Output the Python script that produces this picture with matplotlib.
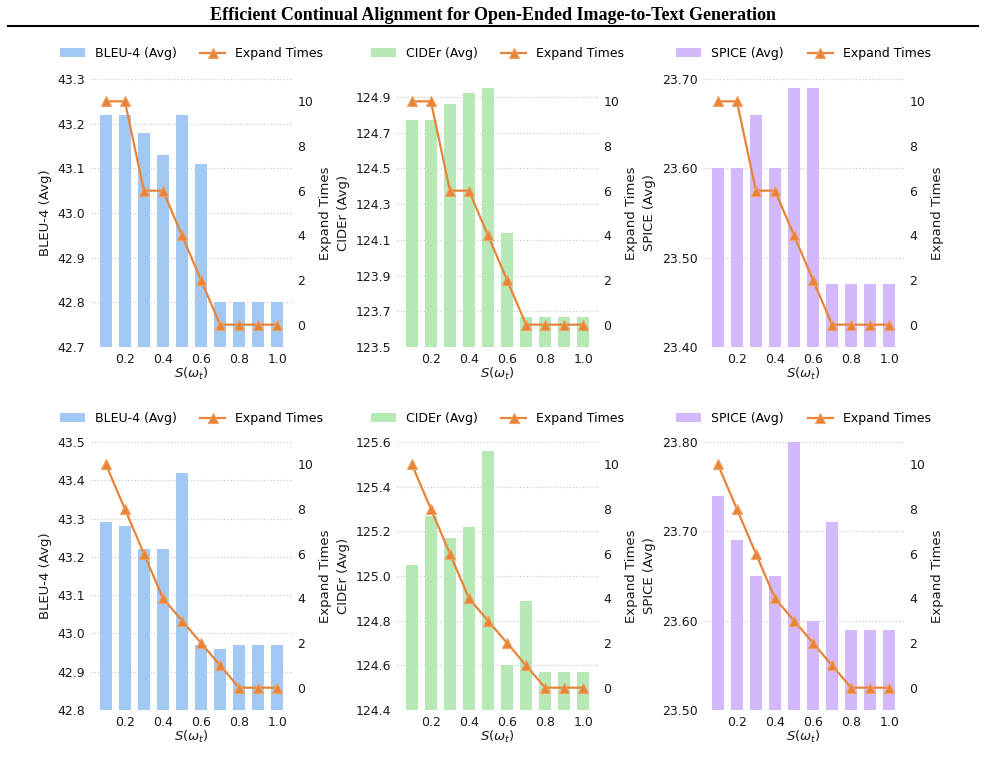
import matplotlib
matplotlib.use("Agg")
import matplotlib.pyplot as plt
import numpy as np

s_values = [0.1, 0.2, 0.3, 0.4, 0.5, 0.6, 0.7, 0.8, 0.9, 1.0]
x_ticks = [0.2, 0.4, 0.6, 0.8, 1.0]

# top row
bleu_top = [43.22, 43.22, 43.18, 43.13, 43.22, 43.11, 42.80, 42.80, 42.80, 42.80]
cider_top = [124.77, 124.77, 124.86, 124.92, 124.95, 124.14, 123.67, 123.67, 123.67, 123.67]
spice_top = [23.60, 23.60, 23.66, 23.60, 23.69, 23.69, 23.47, 23.47, 23.47, 23.47]
expand_top = [10, 10, 6, 6, 4, 2, 0, 0, 0, 0]

# bottom row
bleu_bot = [43.29, 43.28, 43.22, 43.22, 43.42, 42.97, 42.96, 42.97, 42.97, 42.97]
cider_bot = [125.05, 125.27, 125.17, 125.22, 125.56, 124.60, 124.89, 124.57, 124.57, 124.57]
spice_bot = [23.74, 23.69, 23.65, 23.65, 23.80, 23.60, 23.71, 23.59, 23.59, 23.59]
expand_bot = [10, 8, 6, 4, 3, 2, 1, 0, 0, 0]

title = "Efficient Continual Alignment for Open-Ended Image-to-Text Generation"

BLUE = "#a1c9f4"
GREEN = "#b6e9b6"
PURPLE = "#d3b9fc"
ORANGE = "#e8843a"
TXT = "#1a1a1a"

panels = [
    (0, 0, bleu_top, expand_top, "BLEU-4 (Avg)", BLUE, (42.7, 43.3), np.arange(42.7, 43.31, 0.1), "%.1f"),
    (0, 1, cider_top, expand_top, "CIDEr (Avg)", GREEN, (123.5, 125.0), np.arange(123.5, 124.91, 0.2), "%.1f"),
    (0, 2, spice_top, expand_top, "SPICE (Avg)", PURPLE, (23.4, 23.7), np.arange(23.4, 23.71, 0.1), "%.2f"),
    (1, 0, bleu_bot, expand_bot, "BLEU-4 (Avg)", BLUE, (42.8, 43.5), np.arange(42.8, 43.51, 0.1), "%.1f"),
    (1, 1, cider_bot, expand_bot, "CIDEr (Avg)", GREEN, (124.4, 125.6), np.arange(124.4, 125.61, 0.2), "%.1f"),
    (1, 2, spice_bot, expand_bot, "SPICE (Avg)", PURPLE, (23.5, 23.8), np.arange(23.5, 23.81, 0.1), "%.2f"),
]

W, H = 985, 762
fig = plt.figure(figsize=(W / 100, H / 100), dpi=100)

lefts = [91, 397, 703]
ax_w = 201
tops = [79, 442]
ax_h = 268
legend_y = [1.052, 1.045]

fig.text(0.5, 1 - 15 / H, title, ha="center", va="center",
         fontsize=13, fontweight="bold", family=["Liberation Serif", "DejaVu Serif"], color="black")
fig.add_artist(plt.Line2D([8 / W, 978 / W], [1 - 26 / H, 1 - 26 / H], color="black", lw=1.5,
                          transform=fig.transFigure))

for row, col, vals, exp, lab, colr, ylim, yt, fmt in panels:
    l = lefts[col]
    t = tops[row]
    ax = fig.add_axes([l / W, 1 - (t + ax_h) / H, ax_w / W, ax_h / H])
    bars = ax.bar(s_values, vals, width=0.06, color=colr, label=lab, zorder=2)
    ax.set_ylim(*ylim)
    ax.set_yticks(yt)
    ax.set_yticklabels([fmt % v for v in yt])
    ax.set_xticks(x_ticks)
    ax.set_xticklabels(["%.1f" % v for v in x_ticks])
    ax.grid(axis="y", linestyle=":", color="#cccccc", lw=0.9, zorder=0)
    ax.set_axisbelow(True)
    for sp in ax.spines.values():
        sp.set_visible(False)
    ax.tick_params(length=0, labelsize=9, colors=TXT, pad=4)
    ax.set_ylabel(lab, fontsize=9.5, color=TXT, labelpad=4)
    ax.set_xlabel(r"$S(\omega_t)$", fontsize=9.5, color=TXT, labelpad=0)

    ax2 = ax.twinx()
    ln, = ax2.plot(s_values, exp, color=ORANGE, marker="^", markersize=7, lw=1.6,
                   markeredgecolor="#f0a060", markeredgewidth=0.8, label="Expand Times", zorder=3)
    ax2.set_ylim(-1, 11)
    ax2.set_yticks([0, 2, 4, 6, 8, 10])
    for sp in ax2.spines.values():
        sp.set_visible(False)
    ax2.tick_params(length=0, labelsize=9, colors=TXT, pad=4)
    ax2.set_ylabel("Expand Times", fontsize=9.5, color=TXT, labelpad=4)

    ax.legend([bars, ln], [lab, "Expand Times"], loc="lower center",
              bbox_to_anchor=(0.5, legend_y[row]),
              ncol=2, frameon=False, fontsize=9, handlelength=2.0, columnspacing=1.9,
              borderaxespad=0)

fig.savefig("out.png", dpi=100, facecolor="white")
